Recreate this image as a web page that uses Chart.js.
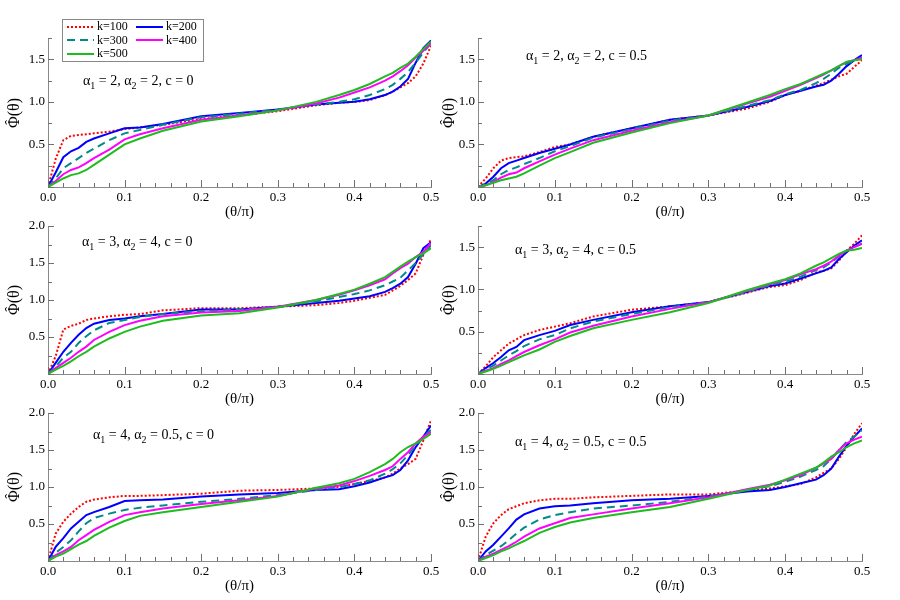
<!DOCTYPE html>
<html>
<head>
<meta charset="utf-8">
<script src="https://cdn.jsdelivr.net/npm/chart.js@4.4.0/dist/chart.umd.min.js"></script>
<style>
  body { margin: 0; background: #fff; }
  #wrap { position: relative; width: 900px; height: 600px; overflow: hidden; font-family: 'Liberation Serif', serif; color: #000; }
  #wrap canvas { position: absolute; }
  .note { position: absolute; font-size: 14px; line-height: 14px; white-space: nowrap; }
  .note sub { font-size: 10px; vertical-align: -4px; line-height: 0; }
  .ytitle { position: absolute; width: 60px; height: 20px; margin: -10px 0 0 -30px; line-height: 20px; text-align: center;
            font-size: 16px; transform: rotate(-90deg); white-space: nowrap; }
  .phi { position: relative; display: inline-block; }
  .hat { position: absolute; left: 0; right: 0; top: -4px; text-align: center; font-size: 15px; }
  #legend { position: absolute; left: 62px; top: 19px; width: 142px; height: 43px; border: 1px solid #888;
            background: #fff; box-sizing: border-box; padding: 0 0 0 4px; font-size: 12px; z-index: 2;
            display: grid; grid-template-columns: 69px 69px; grid-auto-rows: 13.5px; }
  .item { display: flex; align-items: center; white-space: nowrap; }
  .item svg { margin-right: 3px; }
</style>
</head>
<body>
<div id="wrap">
  <div id="legend"></div>
</div>
<script>
// theta / pi, shared by all panels
var theta = [0, 0.01, 0.02, 0.03, 0.04, 0.05, 0.06, 0.08, 0.1, 0.12, 0.15, 0.2, 0.25, 0.3, 0.35, 0.38, 0.4, 0.42, 0.44, 0.45, 0.46, 0.47, 0.48, 0.49, 0.5];

var kLabels = ['k=100', 'k=200', 'k=300', 'k=400', 'k=500'];
var kColors = ['#ff0000', '#0000ff', '#008b8b', '#ff00ff', '#1dbd1d'];
var kDash = [[2, 2], [], [8, 5], [], []];

// alpha1 = 2, alpha2 = 2, c = 0
var p1k100 = [0, 0.33, 0.55, 0.60, 0.61, 0.62, 0.63, 0.65, 0.68, 0.70, 0.73, 0.80, 0.84, 0.89, 0.96, 0.99, 1.00, 1.02, 1.08, 1.12, 1.17, 1.22, 1.30, 1.45, 1.66];
var p1k200 = [0, 0.17, 0.35, 0.42, 0.46, 0.53, 0.57, 0.63, 0.69, 0.70, 0.74, 0.83, 0.87, 0.91, 0.97, 0.99, 1.00, 1.03, 1.08, 1.12, 1.18, 1.27, 1.46, 1.63, 1.72];
var p1k300 = [0, 0.10, 0.22, 0.28, 0.34, 0.40, 0.45, 0.55, 0.63, 0.67, 0.73, 0.82, 0.86, 0.91, 0.97, 1.00, 1.03, 1.08, 1.15, 1.20, 1.27, 1.35, 1.46, 1.58, 1.69];
var p1k400 = [0, 0.07, 0.15, 0.20, 0.23, 0.28, 0.34, 0.44, 0.56, 0.62, 0.69, 0.79, 0.84, 0.90, 0.98, 1.05, 1.11, 1.17, 1.25, 1.30, 1.36, 1.43, 1.52, 1.60, 1.69];
var p1k500 = [0, 0.05, 0.10, 0.14, 0.16, 0.20, 0.26, 0.38, 0.50, 0.57, 0.66, 0.77, 0.83, 0.90, 1.00, 1.08, 1.14, 1.21, 1.30, 1.34, 1.40, 1.45, 1.53, 1.62, 1.71];

// alpha1 = 2, alpha2 = 2, c = 0.5
var p2k100 = [0, 0.10, 0.22, 0.31, 0.34, 0.35, 0.36, 0.41, 0.47, 0.50, 0.59, 0.69, 0.79, 0.84, 0.92, 1.00, 1.08, 1.13, 1.19, 1.22, 1.26, 1.30, 1.33, 1.41, 1.49];
var p2k200 = [0, 0.04, 0.12, 0.22, 0.28, 0.31, 0.34, 0.40, 0.45, 0.50, 0.59, 0.69, 0.79, 0.84, 0.94, 1.01, 1.08, 1.13, 1.18, 1.20, 1.25, 1.33, 1.42, 1.49, 1.55];
var p2k300 = [0, 0.03, 0.08, 0.15, 0.20, 0.23, 0.27, 0.34, 0.42, 0.48, 0.58, 0.68, 0.78, 0.84, 0.95, 1.02, 1.09, 1.14, 1.22, 1.27, 1.33, 1.40, 1.45, 1.48, 1.52];
var p2k400 = [0, 0.02, 0.06, 0.11, 0.15, 0.17, 0.22, 0.30, 0.38, 0.45, 0.55, 0.66, 0.76, 0.84, 0.98, 1.06, 1.13, 1.20, 1.28, 1.32, 1.37, 1.42, 1.47, 1.49, 1.52];
var p2k500 = [0, 0.02, 0.05, 0.08, 0.10, 0.12, 0.16, 0.25, 0.34, 0.41, 0.52, 0.64, 0.75, 0.84, 0.99, 1.08, 1.15, 1.21, 1.29, 1.33, 1.37, 1.42, 1.47, 1.49, 1.50];

// alpha1 = 3, alpha2 = 4, c = 0
var p3k100 = [0, 0.24, 0.60, 0.65, 0.68, 0.73, 0.75, 0.78, 0.80, 0.81, 0.86, 0.89, 0.89, 0.91, 0.93, 0.96, 0.99, 1.03, 1.07, 1.13, 1.19, 1.27, 1.36, 1.61, 1.82];
var p3k200 = [0, 0.15, 0.30, 0.42, 0.53, 0.62, 0.68, 0.73, 0.75, 0.78, 0.81, 0.87, 0.87, 0.91, 0.96, 0.99, 1.02, 1.05, 1.11, 1.16, 1.22, 1.31, 1.49, 1.70, 1.78];
var p3k300 = [0, 0.10, 0.22, 0.30, 0.42, 0.51, 0.59, 0.69, 0.73, 0.77, 0.81, 0.85, 0.87, 0.91, 0.98, 1.04, 1.08, 1.13, 1.20, 1.25, 1.30, 1.40, 1.50, 1.62, 1.74];
var p3k400 = [0, 0.08, 0.15, 0.22, 0.30, 0.37, 0.46, 0.57, 0.66, 0.72, 0.78, 0.83, 0.85, 0.91, 1.00, 1.07, 1.13, 1.20, 1.28, 1.36, 1.43, 1.49, 1.58, 1.65, 1.77];
var p3k500 = [0, 0.06, 0.11, 0.17, 0.24, 0.30, 0.37, 0.48, 0.57, 0.64, 0.72, 0.79, 0.82, 0.90, 1.00, 1.08, 1.14, 1.22, 1.31, 1.38, 1.45, 1.52, 1.58, 1.63, 1.70];

// alpha1 = 3, alpha2 = 4, c = 0.5
var p4k100 = [0, 0.09, 0.20, 0.28, 0.36, 0.41, 0.46, 0.52, 0.56, 0.60, 0.68, 0.76, 0.80, 0.85, 0.96, 1.03, 1.05, 1.11, 1.20, 1.22, 1.25, 1.34, 1.46, 1.54, 1.64];
var p4k200 = [0, 0.07, 0.13, 0.20, 0.28, 0.32, 0.40, 0.46, 0.51, 0.58, 0.64, 0.73, 0.80, 0.85, 0.97, 1.04, 1.07, 1.13, 1.19, 1.22, 1.26, 1.36, 1.44, 1.52, 1.58];
var p4k300 = [0, 0.05, 0.10, 0.16, 0.22, 0.27, 0.33, 0.41, 0.46, 0.54, 0.62, 0.71, 0.79, 0.85, 0.97, 1.05, 1.09, 1.15, 1.23, 1.26, 1.32, 1.39, 1.46, 1.50, 1.54];
var p4k400 = [0, 0.04, 0.07, 0.12, 0.16, 0.21, 0.26, 0.34, 0.41, 0.49, 0.57, 0.68, 0.77, 0.85, 0.98, 1.06, 1.11, 1.18, 1.24, 1.28, 1.33, 1.40, 1.46, 1.50, 1.54];
var p4k500 = [0, 0.03, 0.06, 0.10, 0.14, 0.18, 0.22, 0.29, 0.38, 0.45, 0.54, 0.64, 0.73, 0.84, 0.99, 1.07, 1.12, 1.19, 1.28, 1.32, 1.37, 1.42, 1.46, 1.47, 1.49];

// alpha1 = 4, alpha2 = 0.5, c = 0
var p5k100 = [0, 0.37, 0.53, 0.64, 0.73, 0.80, 0.83, 0.86, 0.88, 0.88, 0.89, 0.91, 0.95, 0.96, 0.98, 1.00, 1.04, 1.08, 1.13, 1.18, 1.25, 1.31, 1.38, 1.63, 1.90];
var p5k200 = [0, 0.19, 0.31, 0.44, 0.53, 0.62, 0.66, 0.73, 0.81, 0.82, 0.83, 0.87, 0.90, 0.92, 0.96, 0.97, 1.01, 1.06, 1.13, 1.16, 1.23, 1.36, 1.54, 1.68, 1.83];
var p5k300 = [0, 0.11, 0.19, 0.28, 0.40, 0.51, 0.58, 0.64, 0.69, 0.72, 0.75, 0.80, 0.84, 0.89, 0.96, 1.00, 1.04, 1.09, 1.18, 1.24, 1.32, 1.43, 1.56, 1.68, 1.77];
var p5k400 = [0, 0.08, 0.13, 0.19, 0.28, 0.35, 0.42, 0.53, 0.62, 0.66, 0.71, 0.77, 0.82, 0.88, 0.98, 1.02, 1.08, 1.15, 1.23, 1.28, 1.38, 1.47, 1.59, 1.68, 1.74];
var p5k500 = [0, 0.06, 0.10, 0.16, 0.22, 0.27, 0.34, 0.45, 0.54, 0.61, 0.66, 0.73, 0.80, 0.87, 0.99, 1.05, 1.11, 1.20, 1.31, 1.38, 1.47, 1.54, 1.59, 1.65, 1.72];

// alpha1 = 4, alpha2 = 0.5, c = 0.5
var p6k100 = [0, 0.33, 0.51, 0.62, 0.70, 0.74, 0.78, 0.82, 0.84, 0.84, 0.86, 0.88, 0.90, 0.90, 0.95, 0.98, 1.01, 1.04, 1.13, 1.19, 1.25, 1.38, 1.54, 1.72, 1.86];
var p6k200 = [0, 0.13, 0.22, 0.33, 0.44, 0.56, 0.63, 0.71, 0.74, 0.75, 0.78, 0.82, 0.84, 0.88, 0.94, 0.96, 1.00, 1.05, 1.10, 1.16, 1.25, 1.41, 1.56, 1.68, 1.79];
var p6k300 = [0, 0.08, 0.14, 0.20, 0.28, 0.37, 0.45, 0.56, 0.62, 0.66, 0.71, 0.75, 0.80, 0.87, 0.96, 1.01, 1.07, 1.14, 1.23, 1.28, 1.38, 1.50, 1.61, 1.68, 1.77];
var p6k400 = [0, 0.06, 0.10, 0.15, 0.20, 0.26, 0.33, 0.44, 0.51, 0.58, 0.63, 0.71, 0.78, 0.86, 0.97, 1.03, 1.09, 1.16, 1.26, 1.32, 1.38, 1.50, 1.59, 1.64, 1.68];
var p6k500 = [0, 0.04, 0.08, 0.13, 0.17, 0.22, 0.27, 0.38, 0.46, 0.52, 0.58, 0.66, 0.73, 0.84, 0.96, 1.02, 1.10, 1.18, 1.26, 1.33, 1.41, 1.47, 1.54, 1.59, 1.63];

var panels = [
  {col: 0, row: 0, yMax: 1.75, note: 'α<sub>1</sub> = 2, α<sub>2</sub> = 2, c = 0',     nx: 83,  ny: 74,  series: [p1k100, p1k200, p1k300, p1k400, p1k500]},
  {col: 1, row: 0, yMax: 1.75, note: 'α<sub>1</sub> = 2, α<sub>2</sub> = 2, c = 0.5',   nx: 526, ny: 49,  series: [p2k100, p2k200, p2k300, p2k400, p2k500]},
  {col: 0, row: 1, yMax: 2.0,  note: 'α<sub>1</sub> = 3, α<sub>2</sub> = 4, c = 0',     nx: 82,  ny: 235, series: [p3k100, p3k200, p3k300, p3k400, p3k500]},
  {col: 1, row: 1, yMax: 1.75, note: 'α<sub>1</sub> = 3, α<sub>2</sub> = 4, c = 0.5',   nx: 515, ny: 243, series: [p4k100, p4k200, p4k300, p4k400, p4k500]},
  {col: 0, row: 2, yMax: 2.0,  note: 'α<sub>1</sub> = 4, α<sub>2</sub> = 0.5, c = 0',   nx: 93,  ny: 428, series: [p5k100, p5k200, p5k300, p5k400, p5k500]},
  {col: 1, row: 2, yMax: 2.0,  note: 'α<sub>1</sub> = 4, α<sub>2</sub> = 0.5, c = 0.5', nx: 515, ny: 435, series: [p6k100, p6k200, p6k300, p6k400, p6k500]}
];

// page layout
var colLeft = [0, 436], colWidth = [450, 464], axisW = [48, 42], padRight = [19, 38], yTitleX = [14, 449];
var rowTop = [0, 200, 387], padTop = [38, 26, 26], rowHeight = [223, 210, 210];
var AXIS_GREY = '#8a8a8a';
var TICK_GREY = '#707070';

Chart.defaults.font.family = "'Liberation Serif', serif";
Chart.defaults.color = '#000';

function onStep(v, step) {
  var r = v / step;
  return Math.abs(r - Math.round(r)) < 1e-6;
}

// tick marks point into the plot, long ones on labelled values
var inwardTicks = {
  id: 'inwardTicks',
  afterDraw: function (chart) {
    var ctx = chart.ctx, a = chart.chartArea, x = chart.scales.x, y = chart.scales.y;
    ctx.save();
    ctx.strokeStyle = TICK_GREY;
    ctx.lineWidth = 1;
    ctx.setLineDash([]);
    x.getTicks().forEach(function (t) {
      var px = Math.round(x.getPixelForValue(t.value)) + 0.5;
      var len = onStep(t.value, 0.1) ? 7 : 4;
      ctx.beginPath();
      ctx.moveTo(px, a.bottom);
      ctx.lineTo(px, a.bottom - len);
      ctx.stroke();
    });
    y.getTicks().forEach(function (t) {
      var py = Math.round(y.getPixelForValue(t.value)) + 0.5;
      var len = onStep(t.value, 0.5) ? 6 : 4;
      ctx.beginPath();
      ctx.moveTo(a.left, py);
      ctx.lineTo(a.left + len, py);
      ctx.stroke();
    });
    ctx.restore();
  }
};

var wrap = document.getElementById('wrap');

panels.forEach(function (p) {
  var cv = document.createElement('canvas');
  cv.width = colWidth[p.col];
  cv.height = rowHeight[p.row];
  cv.style.left = colLeft[p.col] + 'px';
  cv.style.top = rowTop[p.row] + 'px';
  wrap.appendChild(cv);

  var note = document.createElement('div');
  note.className = 'note';
  note.innerHTML = p.note;
  note.style.left = p.nx + 'px';
  note.style.top = p.ny + 'px';
  wrap.appendChild(note);

  // y title as page text, phi with a hat over it
  var yt = document.createElement('div');
  yt.className = 'ytitle';
  yt.innerHTML = '<span class="phi"><span class="hat">ˆ</span>Φ</span>(θ)';
  yt.style.left = yTitleX[p.col] + 'px';
  yt.style.top = (rowTop[p.row] + padTop[p.row] + (rowHeight[p.row] - padTop[p.row] - 36) / 2) + 'px';
  wrap.appendChild(yt);

  new Chart(cv.getContext('2d'), {
    type: 'line',
    data: {
      datasets: p.series.map(function (vals, i) {
        return {
          label: kLabels[i],
          data: vals.map(function (v, j) { return {x: theta[j], y: v}; }),
          borderColor: kColors[i],
          borderDash: kDash[i],
          borderWidth: 2,
          pointRadius: 0,
          fill: false,
          order: 5 - i
        };
      })
    },
    options: {
      responsive: false,
      animation: false,
      devicePixelRatio: 1,
      layout: { padding: { top: padTop[p.row], right: padRight[p.col], left: 0, bottom: 0 } },
      plugins: { legend: { display: false }, tooltip: { enabled: false } },
      scales: {
        x: {
          type: 'linear', min: 0, max: 0.5,
          border: { display: true, color: AXIS_GREY, width: 1 },
          grid: { display: false, drawTicks: false },
          ticks: {
            stepSize: 0.02, autoSkip: false, maxRotation: 0, padding: 3,
            font: { size: 13 },
            callback: function (v) { return onStep(v, 0.1) ? v.toFixed(1) : ''; }
          },
          title: { display: true, text: '(θ/π)', font: { size: 15 }, padding: { top: 0, bottom: 2 } },
          afterFit: function (s) { s.height = 36; }
        },
        y: {
          type: 'linear', min: 0, max: p.yMax,
          border: { display: true, color: AXIS_GREY, width: 1 },
          grid: { display: false, drawTicks: false },
          ticks: {
            stepSize: 0.25, autoSkip: false, padding: 3,
            font: { size: 13 },
            callback: function (v) { return (v > 0 && onStep(v, 0.5)) ? v.toFixed(1) : ''; }
          },
          title: { display: false },
          afterFit: function (s) { s.width = axisW[p.col]; }
        }
      }
    },
    plugins: [inwardTicks]
  });
});

// legend, two columns filled row by row
var legend = document.getElementById('legend');
kLabels.forEach(function (label, i) {
  var item = document.createElement('div');
  item.className = 'item';
  item.innerHTML = '<svg width="27" height="4"><line x1="0" y1="2" x2="27" y2="2" stroke="' + kColors[i] +
    '" stroke-width="2" stroke-dasharray="' + (kDash[i].length ? kDash[i].join(' ') : 'none') + '"/></svg>';
  var txt = document.createElement('span');
  txt.textContent = label;
  item.appendChild(txt);
  legend.appendChild(item);
});
</script>
</body>
</html>
